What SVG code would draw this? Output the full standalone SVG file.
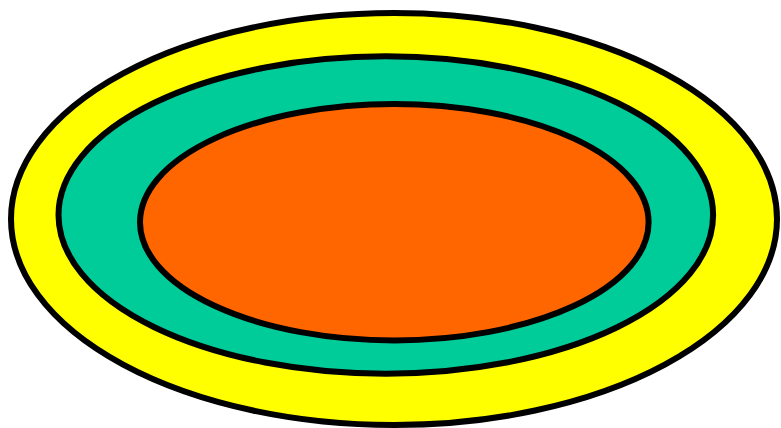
<svg xmlns="http://www.w3.org/2000/svg" width="781" height="428" viewBox="0 0 781 428">
<style>
.e{stroke:#000;stroke-width:6}
</style>
<rect width="781" height="428" fill="#fff"/>
<g id="outer"><ellipse class="e" cx="394" cy="219" rx="383" ry="206" fill="#FFFF00"/></g>
<g id="middle"><ellipse class="e" cx="385.8" cy="215" rx="327.3" ry="158.7" fill="#00CC99"/></g>
<g id="inner"><ellipse class="e" cx="394.3" cy="222.2" rx="254.3" ry="118.2" fill="#FF6600"/></g>
<g id="connectors"></g>
</svg>
